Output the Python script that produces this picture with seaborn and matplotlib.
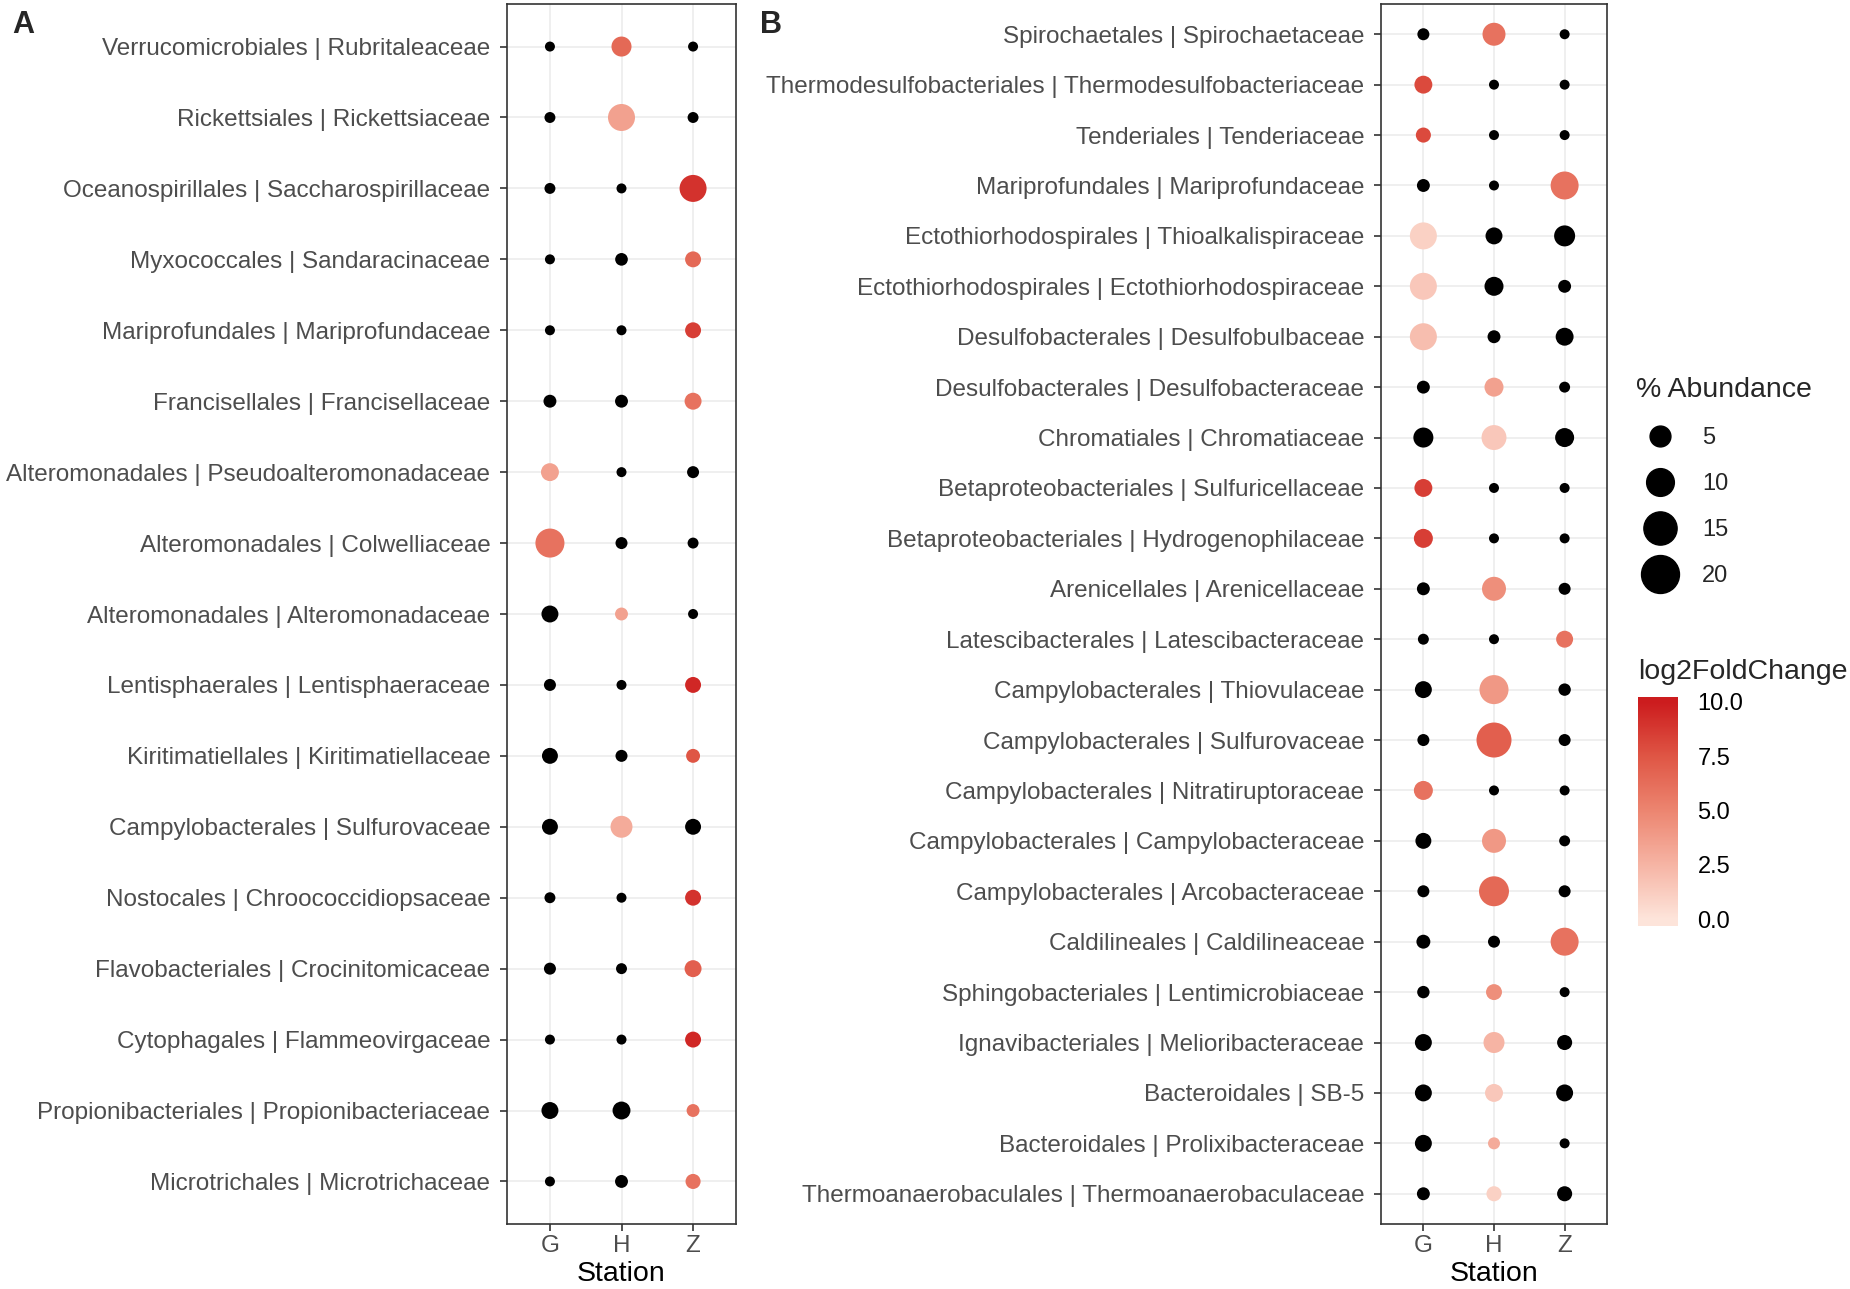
import numpy as np
import pandas as pd
import matplotlib
matplotlib.use('Agg')
import matplotlib.pyplot as plt
from matplotlib.colors import LinearSegmentedColormap, Normalize
from matplotlib.cm import ScalarMappable
from matplotlib.lines import Line2D
import seaborn as sns

nan = np.nan
stations = ['G', 'H', 'Z']

# Panel A (top to bottom)
taxa_a = [
    'Verrucomicrobiales | Rubritaleaceae',
    'Rickettsiales | Rickettsiaceae',
    'Oceanospirillales | Saccharospirillaceae',
    'Myxococcales | Sandaracinaceae',
    'Mariprofundales | Mariprofundaceae',
    'Francisellales | Francisellaceae',
    'Alteromonadales | Pseudoalteromonadaceae',
    'Alteromonadales | Colwelliaceae',
    'Alteromonadales | Alteromonadaceae',
    'Lentisphaerales | Lentisphaeraceae',
    'Kiritimatiellales | Kiritimatiellaceae',
    'Campylobacterales | Sulfurovaceae',
    'Nostocales | Chroococcidiopsaceae',
    'Flavobacteriales | Crocinitomicaceae',
    'Cytophagales | Flammeovirgaceae',
    'Propionibacteriales | Propionibacteriaceae',
    'Microtrichales | Microtrichaceae',
]
abund_a_g = [0, 0.3, 0.3, 0, 0, 1.0, 3.3, 11.1, 2.8, 0.66, 2.3, 2.3, 0.3, 0.66, 0, 2.8, 0]
abund_a_h = [4.5, 9.4, 0, 0.9, 0, 1.0, 0, 0.66, 1.0, 0, 0.66, 5.7, 0, 0.3, 0, 3.3, 1.0]
abund_a_z = [0, 0.3, 9.4, 2.3, 2.3, 2.8, 0.66, 0.3, 0, 2.3, 1.4, 2.3, 2.3, 2.8, 2.3, 1.0, 1.9]
lfc_a_g = [nan, nan, nan, nan, nan, nan, 3.5, 6.0, nan, nan, nan, nan, nan, nan, nan, nan, nan]
lfc_a_h = [6.5, 3.5, nan, nan, nan, nan, nan, nan, 3.5, nan, nan, 3.0, nan, nan, nan, nan, nan]
lfc_a_z = [nan, nan, 9.0, 6.5, 8.5, 6.0, nan, nan, nan, 9.5, 7.5, nan, 9.0, 7.0, 9.5, 6.0, 6.0]

# Panel B (top to bottom)
taxa_b = [
    'Spirochaetales | Spirochaetaceae',
    'Thermodesulfobacteriales | Thermodesulfobacteriaceae',
    'Tenderiales | Tenderiaceae',
    'Mariprofundales | Mariprofundaceae',
    'Ectothiorhodospirales | Thioalkalispiraceae',
    'Ectothiorhodospirales | Ectothiorhodospiraceae',
    'Desulfobacterales | Desulfobulbaceae',
    'Desulfobacterales | Desulfobacteraceae',
    'Chromatiales | Chromatiaceae',
    'Betaproteobacteriales | Sulfuricellaceae',
    'Betaproteobacteriales | Hydrogenophilaceae',
    'Arenicellales | Arenicellaceae',
    'Latescibacterales | Latescibacteraceae',
    'Campylobacterales | Thiovulaceae',
    'Campylobacterales | Sulfurovaceae',
    'Campylobacterales | Nitratiruptoraceae',
    'Campylobacterales | Campylobacteraceae',
    'Campylobacterales | Arcobacteraceae',
    'Caldilineales | Caldilineaceae',
    'Sphingobacteriales | Lentimicrobiaceae',
    'Ignavibacteriales | Melioribacteraceae',
    'Bacteroidales | SB-5',
    'Bacteroidales | Prolixibacteraceae',
    'Thermoanaerobaculales | Thermoanaerobaculaceae',
]
abund_b_g = [0.66, 3.3, 1.9, 1.0, 9.4, 9.4, 9.4, 1.0, 4.5, 3.3, 3.9, 1.0,
             0.3, 2.8, 0.66, 3.9, 2.3, 0.66, 1.4, 0.8, 2.8, 2.8, 2.8, 1.0]
abund_b_h = [6.4, 0, 0, 0, 2.8, 3.9, 1.0, 3.9, 7.8, 0, 0, 7.1,
             0, 11.1, 16.8, 0, 7.1, 11.9, 0.66, 2.3, 5.1, 3.3, 0.66, 1.9]
abund_b_z = [0, 0, 0, 10.2, 5.1, 1.0, 3.3, 0.3, 3.9, 0, 0, 0.66,
             2.8, 0.8, 0.66, 0, 0.3, 0.66, 10.2, 0, 1.9, 2.8, 0, 1.9]
lfc_b_g = [nan, 8.0, 8.0, nan, 1.0, 1.5, 2.0, nan, nan, 8.5, 8.5, nan,
           nan, nan, nan, 6.0, nan, nan, nan, nan, nan, nan, nan, nan]
lfc_b_h = [6.0, nan, nan, nan, nan, nan, nan, 3.5, 1.5, nan, nan, 4.5,
           nan, 4.0, 7.0, nan, 4.0, 6.5, nan, 4.5, 2.5, 1.5, 3.0, 1.0]
lfc_b_z = [nan, nan, nan, 6.0, nan, nan, nan, nan, nan, nan, nan, nan,
           6.0, nan, nan, nan, nan, nan, 6.0, nan, nan, nan, nan, nan]

legend_sizes = [5, 10, 15, 20]
cbar_ticks = [0.0, 2.5, 5.0, 7.5, 10.0]

# colour scale
norm = Normalize(vmin=-0.32, vmax=10.23)
stops = [(0.0, '#FDE4DA'), (2.5, '#F6B4A4'), (5.0, '#EC8570'), (7.5, '#DF5645'), (10.0, '#CC1C1E')]
cmap = LinearSegmentedColormap.from_list(
    'fc', [(0.0, stops[0][1])] + [(float(norm(v)), c) for v, c in stops] + [(1.0, stops[-1][1])])

# point area (pt^2) grows linearly with abundance
s0, s_per = 51.8, 34.7
size_norm = (0, 20)
sizes = (s0, s0 + s_per * 20)


def to_long(taxa, ab, lfc):
    rows = []
    for i, t in enumerate(taxa):
        for j, s in enumerate(stations):
            rows.append((t, s, ab[j][i], lfc[j][i]))
    return pd.DataFrame(rows, columns=['taxon', 'station', 'abundance', 'lfc'])


sns.set_style('whitegrid')
plt.rcParams['font.family'] = ['Liberation Sans', 'DejaVu Sans']

fig = plt.figure(figsize=(18.5, 12.89), dpi=100)
W, H = 1850, 1289


def draw_panel(ax, taxa, df):
    ax.yaxis.update_units(np.array(taxa))
    ax.xaxis.update_units(np.array(stations))
    ns = df[df['lfc'].isna()]
    sig = df[df['lfc'].notna()]
    sns.scatterplot(data=ns, x='station', y='taxon', color='black', size='abundance',
                    sizes=sizes, size_norm=size_norm, linewidth=0, legend=False, ax=ax, zorder=3)
    sns.scatterplot(data=sig, x='station', y='taxon', hue='lfc', palette=cmap, hue_norm=norm,
                    size='abundance', sizes=sizes, size_norm=size_norm, linewidth=0,
                    legend=False, ax=ax, zorder=3)
    n = len(taxa)
    ax.set_xlim(-0.6, 2.6)
    ax.set_ylim(n - 0.4, -0.6)
    ax.set_xticks(range(3), labels=stations)
    ax.set_yticks(range(n), labels=taxa)
    ax.set_xlabel('Station', fontsize=20.5, color='black', labelpad=3)
    ax.set_ylabel('')
    ax.tick_params(axis='both', length=5, width=1.2, color='#333333', labelsize=17.5,
                   labelcolor='#4D4D4D', bottom=True, left=True, pad=7)
    ax.tick_params(axis='x', pad=3)
    ax.grid(True, color='#EBEBEB', linewidth=1.1)
    ax.set_axisbelow(True)
    for sp in ax.spines.values():
        sp.set_visible(True)
        sp.set_color('#333333')
        sp.set_linewidth(1.2)


ax_a = fig.add_axes([507 / W, 65 / H, 229 / W, 1220 / H])
draw_panel(ax_a, taxa_a, to_long(taxa_a, [abund_a_g, abund_a_h, abund_a_z], [lfc_a_g, lfc_a_h, lfc_a_z]))
ax_b = fig.add_axes([1381 / W, 65 / H, 226 / W, 1220 / H])
draw_panel(ax_b, taxa_b, to_long(taxa_b, [abund_b_g, abund_b_h, abund_b_z], [lfc_b_g, lfc_b_h, lfc_b_z]))

fig.text(12 / W, 1 - 25 / H, 'A', fontsize=22, fontweight='bold', va='center', ha='left')
fig.text(760 / W, 1 - 25 / H, 'B', fontsize=22, fontweight='bold', va='center', ha='left')

# size legend
handles = [Line2D([], [], marker='o', linestyle='', color='black',
                  markersize=np.sqrt(s0 + s_per * v)) for v in legend_sizes]
leg = fig.legend(handles, [str(v) for v in legend_sizes], title='% Abundance',
                 loc='upper left', bbox_to_anchor=(1636 / W, 1 - 377 / H), frameon=False,
                 fontsize=17, title_fontsize=20.5, alignment='left', borderpad=0,
                 borderaxespad=0, labelspacing=1.02, handletextpad=0.8)

# colour bar
cax = fig.add_axes([1638 / W, (H - 926) / H, 40 / W, 229 / H])
cb = fig.colorbar(ScalarMappable(norm=norm, cmap=cmap), cax=cax, ticks=cbar_ticks)
cb.outline.set_visible(False)
cb.ax.set_yticklabels([f'{t:.1f}' for t in cbar_ticks])
cb.ax.tick_params(axis='y', direction='in', color='white', length=6, width=1.5,
                  left=True, right=True, labelsize=17, labelcolor='black', pad=14)
fig.text(1638 / W, 1 - 672 / H, 'log2FoldChange', fontsize=20.5, va='center', ha='left')

fig.savefig('out.png', dpi=100)
plt.close(fig)
